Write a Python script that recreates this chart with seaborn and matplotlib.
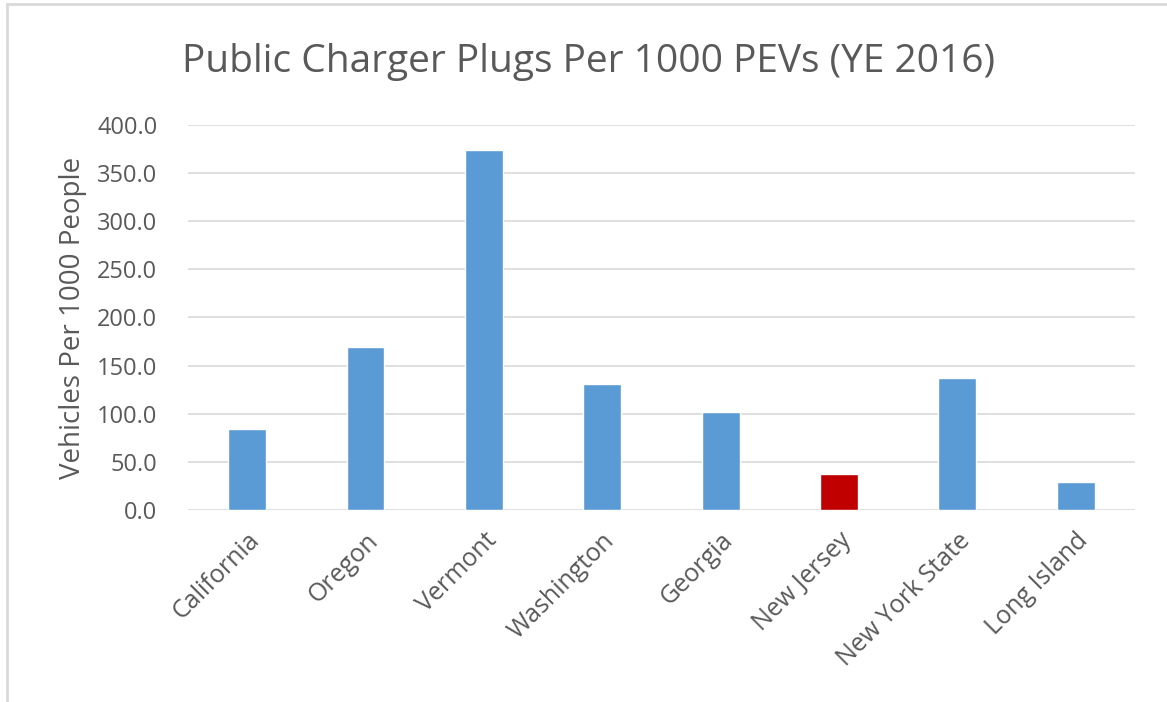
import matplotlib
matplotlib.use("Agg")
import matplotlib.pyplot as plt
import seaborn as sns
from matplotlib.lines import Line2D

# values
states = ["California", "Oregon", "Vermont", "Washington", "Georgia",
          "New Jersey", "New York State", "Long Island"]
plugs = [84.3, 169.6, 374.3, 130.6, 101.6, 37.3, 137.3, 29.4]
bar_colors = ["#5B9BD5", "#5B9BD5", "#5B9BD5", "#5B9BD5", "#5B9BD5",
              "#C00000", "#5B9BD5", "#5B9BD5"]
yticks = [0, 50, 100, 150, 200, 250, 300, 350, 400]

sns.set_style("white")
plt.rcParams["font.family"] = ["Open Sans", "DejaVu Sans"]
txt = "#595959"

fig = plt.figure(figsize=(11.67, 7.02), dpi=100)
ax = fig.add_axes([0.161, 0.2735, 0.8116, 0.5485])

sns.barplot(x=states, y=plugs, hue=states, palette=bar_colors,
            legend=False, width=0.32, saturation=1, ax=ax)

ax.set_ylim(0, 400)
ax.set_yticks(yticks)
ax.set_yticklabels([f"{v:.1f}" for v in yticks], fontsize=17, color=txt)
ax.set_xticks(range(len(states)))
ax.set_xticklabels(states, rotation=45, ha="right", rotation_mode="anchor",
                   fontsize=18, color=txt)
ax.tick_params(axis="y", length=0, pad=22)
ax.tick_params(axis="x", length=0, pad=13)
ax.grid(axis="y", color="#D9D9D9", lw=1.2)
ax.set_axisbelow(True)
for s in ax.spines.values():
    s.set_visible(False)
ax.set_ylabel("Vehicles Per 1000 People", fontsize=20, color=txt, labelpad=7)
ax.set_xlabel("")

fig.text(0.504, 0.912, "Public Charger Plugs Per 1000 PEVs (YE 2016)",
         ha="center", va="center", fontsize=28, color=txt)

# outer chart frame
fig.add_artist(Line2D([0.006, 0.006], [0.0, 0.994], color="#D9D9D9", lw=2))
fig.add_artist(Line2D([0.006, 1.0], [0.994, 0.994], color="#D9D9D9", lw=2))

fig.savefig("out.png", dpi=100)
